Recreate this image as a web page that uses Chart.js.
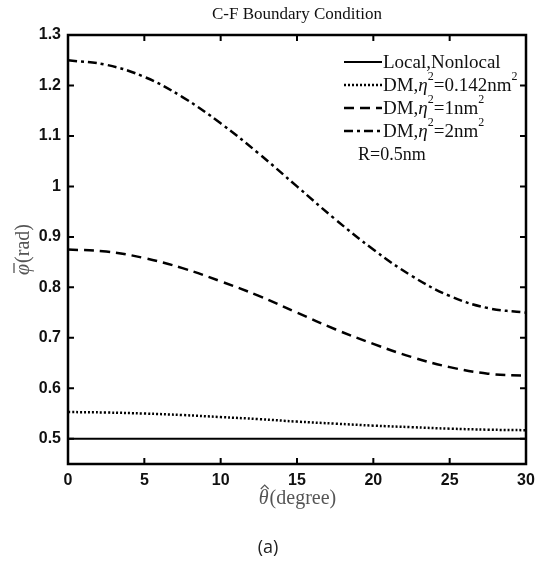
<!DOCTYPE html>
<html>
<head>
<meta charset="utf-8">
<script src="https://cdn.jsdelivr.net/npm/chart.js@4.4.1/dist/chart.umd.min.js"></script>
<style>
  html, body { margin: 0; padding: 0; background: #fff; }
  #wrap { width: 537px; height: 569px; position: relative; }
</style>
</head>
<body>
<div id="wrap"><canvas id="chart"></canvas></div>
<script>
// --- data ---
const theta = [0, 2.5, 5, 7.5, 10, 12.5, 15, 17.5, 20, 22.5, 25, 27.5, 30];
const localNonlocal = [0.5, 0.5, 0.5, 0.5, 0.5, 0.5, 0.5, 0.5, 0.5, 0.5, 0.5, 0.5, 0.5];
const dmEta0142 = [0.553, 0.552, 0.550, 0.547, 0.543, 0.539, 0.534, 0.530, 0.526, 0.523, 0.520, 0.518, 0.517];
const dmEta1 = [0.875, 0.871, 0.858, 0.838, 0.812, 0.783, 0.750, 0.717, 0.688, 0.662, 0.642, 0.629, 0.625];
const dmEta2 = [1.25, 1.241, 1.217, 1.177, 1.125, 1.065, 1.0, 0.935, 0.875, 0.823, 0.783, 0.759, 0.75];
const xTicks = [0, 5, 10, 15, 20, 25, 30];
const yTicks = [0.5, 0.6, 0.7, 0.8, 0.9, 1, 1.1, 1.2, 1.3];

const toPoints = (ys) => theta.map((t, i) => ({ x: t, y: ys[i] }));

const lineSet = (label, ys, dash, width) => ({
    label: label,
    data: toPoints(ys),
    borderColor: '#000',
    borderWidth: width,
    borderDash: dash,
    pointRadius: 0,
    tension: 0.4,
    fill: false
});

// legend entries: [text parts, dash]
const legendItems = [
    { dash: [], width: 2, parts: [['Local,Nonlocal', 'n']] },
    { dash: [2, 2], width: 2.5, parts: [['DM,', 'n'], ['η', 'i'], ['2', 's'], ['=0.142nm', 'n'], ['2', 's']] },
    { dash: [10, 6], width: 2.5, parts: [['DM,', 'n'], ['η', 'i'], ['2', 's'], ['=1nm', 'n'], ['2', 's']] },
    { dash: [9, 4, 3, 4], width: 2.5, parts: [['DM,', 'n'], ['η', 'i'], ['2', 's'], ['=2nm', 'n'], ['2', 's']] }
];

const serif = '"Liberation Serif", "DejaVu Serif", serif';

const decorPlugin = {
    id: 'decor',
    afterDraw(chart) {
        const ctx = chart.ctx;
        const a = chart.chartArea;
        const xs = chart.scales.x, ys = chart.scales.y;
        ctx.save();

        // inward ticks on all four sides
        ctx.strokeStyle = '#000';
        ctx.lineWidth = 2;
        ctx.setLineDash([]);
        const tl = 6;
        xTicks.forEach(v => {
            const px = xs.getPixelForValue(v);
            ctx.beginPath();
            ctx.moveTo(px, a.bottom); ctx.lineTo(px, a.bottom - tl);
            ctx.moveTo(px, a.top); ctx.lineTo(px, a.top + tl);
            ctx.stroke();
        });
        yTicks.forEach(v => {
            const py = ys.getPixelForValue(v);
            ctx.beginPath();
            ctx.moveTo(a.left, py); ctx.lineTo(a.left + tl, py);
            ctx.moveTo(a.right, py); ctx.lineTo(a.right - tl, py);
            ctx.stroke();
        });
        // box
        ctx.lineWidth = 2.5;
        ctx.strokeRect(a.left, a.top, a.right - a.left, a.bottom - a.top);

        // title
        ctx.fillStyle = '#111';
        ctx.font = '17px ' + serif;
        ctx.textAlign = 'center';
        ctx.textBaseline = 'middle';
        ctx.fillText('C-F Boundary Condition', (a.left + a.right) / 2, 15);

        // legend
        let ly = 62;
        legendItems.forEach(item => {
            ctx.beginPath();
            ctx.setLineDash(item.dash);
            ctx.lineWidth = item.width;
            ctx.moveTo(344, ly); ctx.lineTo(382, ly);
            ctx.stroke();
            ctx.setLineDash([]);
            let tx = 383;
            ctx.textAlign = 'left';
            item.parts.forEach(([txt, kind]) => {
                if (kind === 's') {
                    ctx.font = '12px ' + serif;
                    ctx.fillText(txt, tx, ly - 8);
                } else if (kind === 'i') {
                    ctx.font = 'italic 19px ' + serif;
                    ctx.fillText(txt, tx, ly + 1);
                } else {
                    ctx.font = '19px ' + serif;
                    ctx.fillText(txt, tx, ly + 1);
                }
                tx += ctx.measureText(txt).width;
            });
            ly += 23;
        });
        ctx.font = '18px ' + serif;
        ctx.fillText('R=0.5nm', 358, ly + 1);

        // y axis title (rotated) with overlined phi
        ctx.save();
        ctx.translate(24, 250);
        ctx.rotate(-Math.PI / 2);
        ctx.fillStyle = '#555';
        ctx.strokeStyle = '#555';
        ctx.textAlign = 'left';
        ctx.textBaseline = 'middle';
        ctx.font = '20px ' + serif;
        const rest = '(rad)';
        const wRest = ctx.measureText(rest).width;
        ctx.font = 'italic 20px ' + serif;
        const wPhi = ctx.measureText('φ').width;
        const start = -(wRest + wPhi) / 2;
        ctx.fillText('φ', start, 0);
        ctx.lineWidth = 1.3;
        ctx.beginPath();
        ctx.moveTo(start + 2, -10); ctx.lineTo(start + wPhi + 1, -10);
        ctx.stroke();
        ctx.font = '20px ' + serif;
        ctx.fillText(rest, start + wPhi + 1, 0);
        ctx.restore();

        // x axis title with hatted theta
        ctx.fillStyle = '#555';
        ctx.strokeStyle = '#555';
        ctx.textAlign = 'left';
        ctx.font = 'italic 20px ' + serif;
        const wTh = ctx.measureText('θ').width;
        ctx.font = '20px ' + serif;
        const deg = '(degree)';
        const wDeg = ctx.measureText(deg).width;
        const xStart = (a.left + a.right) / 2 - (wTh + wDeg) / 2;
        const ty = 499;
        ctx.font = 'italic 20px ' + serif;
        ctx.fillText('θ', xStart, ty);
        ctx.lineWidth = 1.2;
        ctx.beginPath();
        ctx.moveTo(xStart + 2, ty - 10);
        ctx.lineTo(xStart + wTh / 2 + 1, ty - 14);
        ctx.lineTo(xStart + wTh, ty - 10);
        ctx.stroke();
        ctx.font = '20px ' + serif;
        ctx.fillText(deg, xStart + wTh + 1, ty);

        // panel label
        ctx.fillStyle = '#222';
        ctx.textAlign = 'center';
        ctx.font = '18px "Open Sans", "Noto Sans", sans-serif';
        ctx.fillText('(a)', 268, 548);

        ctx.restore();
    }
};

const ctx = document.getElementById('chart').getContext('2d');
new Chart(ctx, {
    type: 'line',
    data: {
        datasets: [
            lineSet('Local,Nonlocal', localNonlocal, [], 2),
            lineSet('DM,η²=0.142nm²', dmEta0142, [2, 2], 2.5),
            lineSet('DM,η²=1nm²', dmEta1, [10, 6], 2.5),
            lineSet('DM,η²=2nm²', dmEta2, [9, 4, 3, 4], 2.5)
        ]
    },
    options: {
        responsive: true,
        maintainAspectRatio: false,
        animation: false,
        layout: { padding: { top: 35, right: 11, left: 0, bottom: 0 } },
        plugins: {
            legend: { display: false },
            title: { display: false },
            tooltip: { enabled: false }
        },
        scales: {
            x: {
                type: 'linear',
                min: 0,
                max: 30,
                afterBuildTicks: (s) => { s.ticks = xTicks.map(v => ({ value: v })); },
                afterFit: (s) => { s.height = 105; s.paddingRight = 0; s.paddingLeft = 0; },
                grid: { display: false, drawTicks: false },
                border: { display: false },
                ticks: {
                    padding: 7,
                    color: '#111',
                    font: { family: '"Liberation Sans", Arial, sans-serif', size: 16, weight: 'bold' },
                    maxRotation: 0
                }
            },
            y: {
                type: 'linear',
                min: 0.45,
                max: 1.3,
                afterBuildTicks: (s) => { s.ticks = yTicks.map(v => ({ value: v })); },
                afterFit: (s) => { s.width = 68; s.paddingTop = 0; s.paddingBottom = 0; },
                grid: { display: false, drawTicks: false },
                border: { display: false },
                ticks: {
                    padding: 7,
                    color: '#111',
                    font: { family: '"Liberation Sans", Arial, sans-serif', size: 16, weight: 'bold' },
                    callback: (v) => String(v)
                }
            }
        }
    },
    plugins: [decorPlugin]
});
</script>
</body>
</html>
